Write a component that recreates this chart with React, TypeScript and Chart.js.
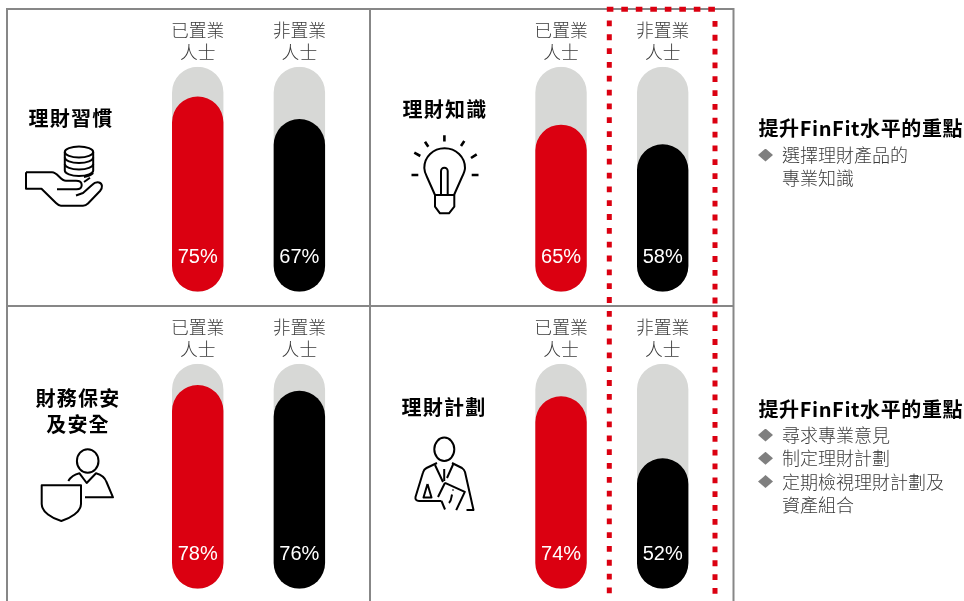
import React, { useEffect, useRef } from "react";
import { Chart, registerables } from "chart.js";

Chart.register(...registerables);

// ---- data ----
const groups = [["已置業", "人士"], ["非置業", "人士"]];
const habitValues = [75, 67];
const knowledgeValues = [65, 58];
const protectionValues = [78, 76];
const planningValues = [74, 52];
const habitTitle = ["理財習慣"];
const knowledgeTitle = ["理財知識"];
const protectionTitle = ["財務保安", "及安全"];
const planningTitle = ["理財計劃"];
const focusHeading = "提升FinFit水平的重點";
const focusUpper = [["選擇理財產品的", "專業知識"]];
const focusLower = [["尋求專業意見"], ["制定理財計劃"], ["定期檢視理財計劃及", "資產組合"]];

// ---- scale range ----
const AXIS_MIN = 5.6;
const AXIS_MAX = 85.6;

// ---- styles ----
const RED = "#DB0011";
const TRACK = "#D7D8D6";
const GRID = "#878787";
const CJK = '"Noto Sans CJK TC"';
const TEXT = "#3a3a3a";
const AREA_WIDTH = 203.3;

const valueLabels = {
  id: "valueLabels",
  afterDatasetsDraw(chart: any) {
    const { ctx, scales } = chart;
    const meta = chart.getDatasetMeta(0);
    ctx.save();
    ctx.fillStyle = "#fff";
    ctx.font = '20px "Liberation Sans"';
    ctx.textAlign = "center";
    ctx.textBaseline = "middle";
    meta.data.forEach((bar: any, i: number) => {
      ctx.fillText(chart.data.datasets[0].data[i] + "%", bar.x, scales.y.bottom - 34.7);
    });
    ctx.restore();
  },
};

function Panel({ values, left, top, width, height, areaLeft }: any) {
  const ref = useRef<HTMLCanvasElement>(null);
  useEffect(() => {
    const chart = new Chart(ref.current!, {
      type: "bar",
      data: {
        labels: groups,
        datasets: [
          {
            data: values,
            backgroundColor: [RED, "#000000"],
            order: 1,
            base: AXIS_MIN,
            barThickness: 51.4,
            borderRadius: 25.7,
            borderSkipped: false,
            inflateAmount: 0,
          },
          {
            data: values.map(() => AXIS_MAX),
            backgroundColor: TRACK,
            order: 2,
            base: AXIS_MIN,
            barThickness: 51.4,
            borderRadius: 25.7,
            borderSkipped: false,
            inflateAmount: 0,
          },
        ],
      } as any,
      plugins: [valueLabels],
      options: {
        animation: false,
        responsive: false,
        maintainAspectRatio: false,
        layout: { padding: { left: areaLeft, right: width - areaLeft - AREA_WIDTH, top: 0, bottom: height - 281.7 } },
        plugins: { legend: { display: false }, tooltip: { enabled: false } },
        datasets: { bar: { grouped: false } },
        scales: {
          x: {
            position: "top",
            grid: { display: false, drawTicks: false },
            border: { display: false },
            ticks: {
              color: TEXT,
              padding: 4,
              maxRotation: 0,
              autoSkip: false,
              font: { family: CJK, size: 17.8, weight: "300", lineHeight: 1.2 },
            },
            afterFit: (s: any) => {
              s.height = 56.7;
            },
          },
          y: { display: false, min: AXIS_MIN, max: AXIS_MAX },
        },
      } as any,
    });
    return () => chart.destroy();
  }, []);
  return <canvas ref={ref} width={width} height={height} style={{ position: "absolute", left, top, width, height, display: "block" }} />;
}

function Title({ lines, cx, cy }: any) {
  const lh = 26;
  return (
    <div
      style={{
        position: "absolute",
        left: cx - 70,
        top: cy - 13.5,
        width: 140,
        textAlign: "center",
        fontFamily: CJK,
        fontWeight: 700,
        fontSize: 20,
        letterSpacing: 1.2,
        lineHeight: lh + "px",
        color: "#000",
        whiteSpace: "nowrap",
      }}
    >
      {lines.map((l: string) => (
        <div key={l}>{l}</div>
      ))}
    </div>
  );
}

function Focus({ items, headingY, firstY }: any) {
  let row = 0;
  const lh = 23.3;
  return (
    <>
      <div style={{ position: "absolute", left: 758.5, top: headingY - 15, height: 30, lineHeight: "30px", fontFamily: CJK, fontWeight: 700, fontSize: 20, letterSpacing: 0.6, color: "#000", whiteSpace: "nowrap" }}>
        {focusHeading}
      </div>
      {items.map((lines: string[]) => {
        const startRow = row;
        row += lines.length;
        return (
          <React.Fragment key={lines[0]}>
            <div style={{ position: "absolute", left: 758, top: firstY + startRow * lh - 6.5, width: 15, height: 13, background: "#7f7f7f", clipPath: "polygon(50% 0,100% 50%,50% 100%,0 50%)" }} />
            {lines.map((l, k) => (
              <div key={l} style={{ position: "absolute", left: 782, top: firstY + (startRow + k) * lh - 13, height: 24, lineHeight: "24px", fontFamily: CJK, fontWeight: 300, fontSize: 18, color: TEXT, whiteSpace: "nowrap" }}>
                {l}
              </div>
            ))}
          </React.Fragment>
        );
      })}
    </>
  );
}

function Art() {
  const ink = { fill: "none", stroke: "#000", strokeWidth: 2, strokeLinejoin: "round", strokeLinecap: "butt" } as any;
  const dot = { fill: "none", stroke: RED };
  return (
    <svg width={964} height={601} style={{ position: "absolute", left: 0, top: 0, pointerEvents: "none" }}>
      {/* panel rules */}
      <g stroke={GRID} strokeWidth={2} fill="none">
        <path d="M7 601V9H733.5V601" />
        <path d="M370 9V601" />
        <path d="M7 306H733.5" />
      </g>
      {/* dotted highlight */}
      <path d="M606.8 9.3H717.5" {...dot} strokeWidth={5} strokeDasharray="6.6 7.9" />
      <path d="M609.3 20.5V601" {...dot} strokeWidth={5} strokeDasharray="5.8 8.03" />
      <path d="M715 21V601" {...dot} strokeWidth={5} strokeDasharray="5.8 8.03" />
      {/* coins in a hand */}
      <g {...ink}>
        <ellipse cx={79} cy={152} rx={14.2} ry={5.4} />
        <path d="M64.8 152V157.5A14.2 5.4 0 0 0 93.2 157.5V152" />
        <path d="M64.8 157.5V164A14.2 5.4 0 0 0 93.2 164V157.5" />
        <path d="M64.8 164V170.5A14.2 5.4 0 0 0 93.2 170.5V164" />
        <path d="M84 177Q90 176 93.2 173" />
        <path d="M26 172.3H52C58 172.3 60 180.7 66 180.7H76C80 180.7 81.7 182.5 81.7 185C81.7 187.8 79.5 189.3 76.5 189.3H57" />
        <path d="M26 172.3V188.7H41.5L56 203C58 205 59 205.7 61 205.7H83C85.5 205.7 86.5 205 88 203.5L100 191C103 187.5 102.5 183.5 99 182.5C96 181.7 94 183 92 185L83 193L76 195.5" />
        <path d="M84 182L90 177.8" />
      </g>
      {/* light bulb */}
      <g {...ink}>
        <path d="M435 195L427 177C425 173 424.3 171 424.3 168C424.3 157 433 148.3 444.6 148.3C456 148.3 465 157 465 168C465 171 464 173 462 177L454 195" />
        <path d="M435 195H454.3V206.7L449 213.3H440L435 206.7Z" />
        <path d="M441 195V171A3.3 3.3 0 0 1 447.7 171V195" />
      </g>
      <g stroke="#000" strokeWidth={2.6} fill="none">
        <path d="M444.4 135.3V141.5M425 141.7L428.3 146.7M464.3 141L461 146M414.3 152.7L420.3 156M476.7 154.3L471 158M411.5 175H418.3M471.7 175H478.5" />
      </g>
      {/* person with shield */}
      <g {...ink}>
        <ellipse cx={87.7} cy={461} rx={10.8} ry={11.8} />
        <path d="M68.3 481Q72 475 79.5 473.3L86.7 483L96 473.3C102 475 105 478 106.5 482L113 497.3H85" />
        <path d="M41.7 485.3H81V504C81 512 70 518.5 61.3 521C52 518.5 41.7 512 41.7 504Z" />
      </g>
      {/* analyst with tablet */}
      <g {...ink}>
        <ellipse cx={444.3} cy={449.3} rx={10} ry={11.7} />
        <path d="M437 463L426.5 468C424.5 469 423.5 470.5 423 472.5L415.5 497C415 499.5 416.5 501 419 501H441.5" />
        <path d="M452 463L462 468C463.5 469 464.5 470.5 465 472L473.5 510H466.5" />
        <path d="M435 465L443 482M453.3 464L447 478" />
        <path d="M444.2 469V481" />
        <path d="M427.5 484L423.5 497.5H431.5L427.5 484" />
        <path d="M445 482.8L464.8 491.8L456.2 510.2M445 482.8L438 497" />
        <path d="M449 503Q451 501 451.5 497L452 494.5M453 489.5V490.5" />
        <path d="M441.5 501L445 509.5" />
      </g>
    </svg>
  );
}

export default function App() {
  return (
    <div style={{ position: "absolute", left: 0, top: 0, width: 964, height: 601, overflow: "hidden", background: "#fff" }}>
      <Panel values={habitValues} left={8} top={10} width={362} height={296} areaLeft={138.9} />
      <Panel values={knowledgeValues} left={371} top={10} width={362} height={296} areaLeft={139.2} />
      <Panel values={protectionValues} left={8} top={307} width={362} height={294} areaLeft={138.9} />
      <Panel values={planningValues} left={371} top={307} width={362} height={294} areaLeft={139.2} />
      <Art />
      <Title lines={habitTitle} cx={71} cy={118} />
      <Title lines={knowledgeTitle} cx={445} cy={109} />
      <Title lines={protectionTitle} cx={78} cy={398} />
      <Title lines={planningTitle} cx={444} cy={407} />
      <Focus items={focusUpper} headingY={128} firstY={155} />
      <Focus items={focusLower} headingY={409} firstY={435} />
    </div>
  );
}
